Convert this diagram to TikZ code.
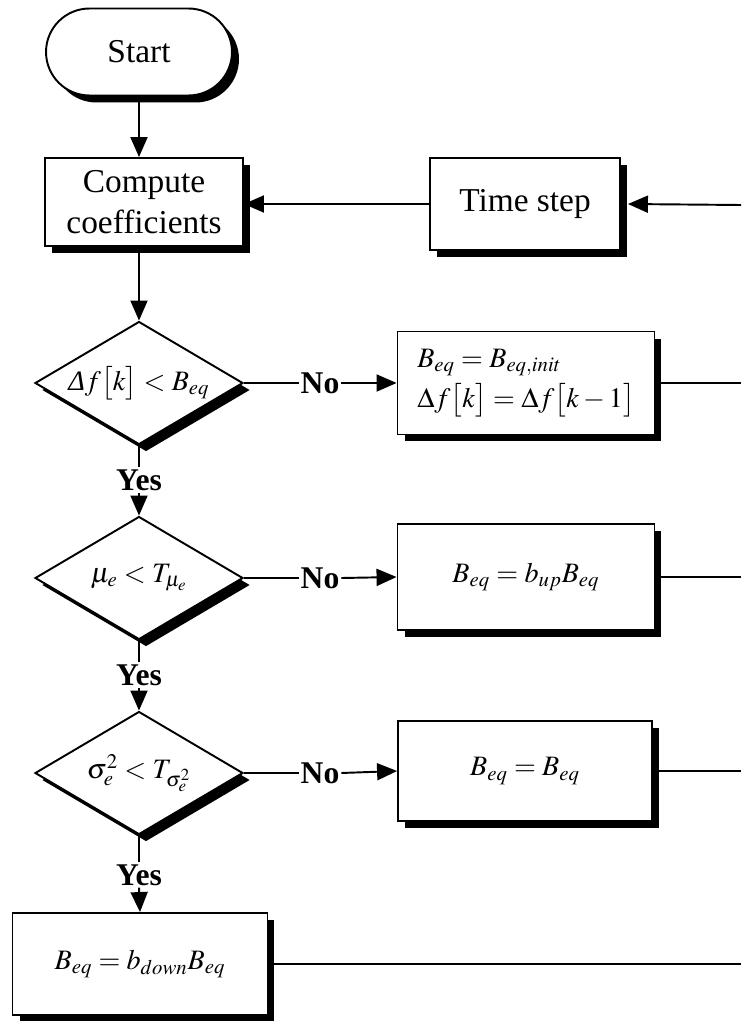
\documentclass[tikz,border=0pt]{standalone}
\usepackage{mathptmx}
\usepackage{fontspec}
\setmainfont{Liberation Serif}
\usetikzlibrary{arrows.meta,positioning,shapes.geometric,shadows}
\newcommand{\condtext}[1]{\makebox[0pt]{#1}}

\begin{document}
\begin{tikzpicture}[
  x=0.02cm, y=-0.02cm,
  every node/.style={font=\fontsize{19}{23}\selectfont},
  shad/.style={drop shadow={shadow xshift=0.14cm, shadow yshift=-0.14cm,
               fill=black, opacity=1}},
  box/.style={draw, line width=1.1pt, fill=white, shad, align=center,
              inner sep=2pt},
  formula/.style={box, font=\fontsize{16}{21}\selectfont},
  term/.style={box, rounded corners=0.87cm, minimum width=3.72cm,
               minimum height=1.74cm},
  test/.style={diamond, draw, line width=1.1pt, fill=white, shad,
               font=\fontsize{16}{20}\selectfont,
               minimum width=4.16cm, minimum height=2.46cm, inner sep=0pt},
  answer/.style={font=\fontsize{18}{22}\selectfont\bfseries, inner sep=1pt},
  link/.style={line width=1.1pt},
  arr/.style={link, -{Triangle[length=0.4cm, width=0.34cm]}}
]
  \useasboundingbox (0,0) rectangle (741,1021);

  \node[term] (start) at (139,52) {Start};
  \node[box, minimum width=3.96cm, minimum height=1.76cm] (comp) at (144,202)
    {Compute\\coefficients};
  \node[box, minimum width=3.8cm, minimum height=1.84cm] (time) at (525,204)
    {Time step};

  % tests on the left
  \node[test] (d1) at (139,383)
    {\condtext{$\mbox{\itshape Δ}f\bigl[k\bigr] < B_{eq}$}};
  \node[test] (d2) at (139,578) {\condtext{$\mu_e < T_{\mu_e}$}};
  \node[test] (d3) at (139,773) {\condtext{$\sigma_e^2 < T_{\sigma_e^2}$}};

  \node[answer] (no1) at (320,383) {No};
  \node[answer] (no2) at (320,578) {No};
  \node[answer] (no3) at (320,773) {No};
  \node[answer] (yes1) at (139,480) {Yes};
  \node[answer] (yes2) at (139,675) {Yes};
  \node[answer] (yes3) at (139,875) {Yes};

  % updates
  \node[formula, align=left, minimum width=5.14cm, minimum height=2.06cm] (b1)
    at (526,383) {$B_{eq} = B_{eq,init}$\\[2pt]
                  $\Delta f\bigl[k\bigr] = \Delta f\bigl[k-1\bigr]$};
  \node[formula, minimum width=5.14cm, minimum height=2.12cm] (b2) at (526,577)
    {$B_{eq} = b_{up}B_{eq}$};
  \node[formula, minimum width=5.08cm, minimum height=2.0cm] (b3) at (525,771)
    {$B_{eq} = B_{eq}$};
  \node[formula, minimum width=5.1cm, minimum height=2.04cm] (fin) at (140,964)
    {$B_{eq} = b_{down}B_{eq}$};

  % loose ends at the right border
  \coordinate (e0) at (741,205);
  \coordinate (e1) at (741,383);
  \coordinate (e2) at (741,577);
  \coordinate (e3) at (741,771);
  \coordinate (e4) at (741,964);

  \draw[arr] (start.south) -- (start.south |- comp.north);
  \draw[arr] (e0) -- ([xshift=0.14cm]time.east);
  \draw[arr] (time.west) -- (time.west -| comp.east);
  \draw[arr] (start.south |- comp.south) -- (d1.north);

  \draw[link] (d1.east) -- (no1.west);
  \draw[arr] (no1.east) -- (b1.west);
  \draw[link] (d2.east) -- (no2.west);
  \draw[arr] (no2.east) -- (b2.west);
  \draw[link] (d3.east) -- (no3.west);
  \draw[arr] (no3.east) -- (b3.west);

  \draw[link] (d1.south) -- (yes1.north);
  \draw[arr] (yes1.south) -- (d2.north);
  \draw[link] (d2.south) -- (yes2.north);
  \draw[arr] (yes2.south) -- (d3.north);
  \draw[link] (d3.south) -- (yes3.north);
  \draw[arr] (yes3.south) -- (fin.north);

  \draw[link] (b1.east) -- (e1);
  \draw[link] (b2.east) -- (e2);
  \draw[link] (b3.east) -- (e3);
  \draw[link] (fin.east) -- (e4);
\end{tikzpicture}
\end{document}
